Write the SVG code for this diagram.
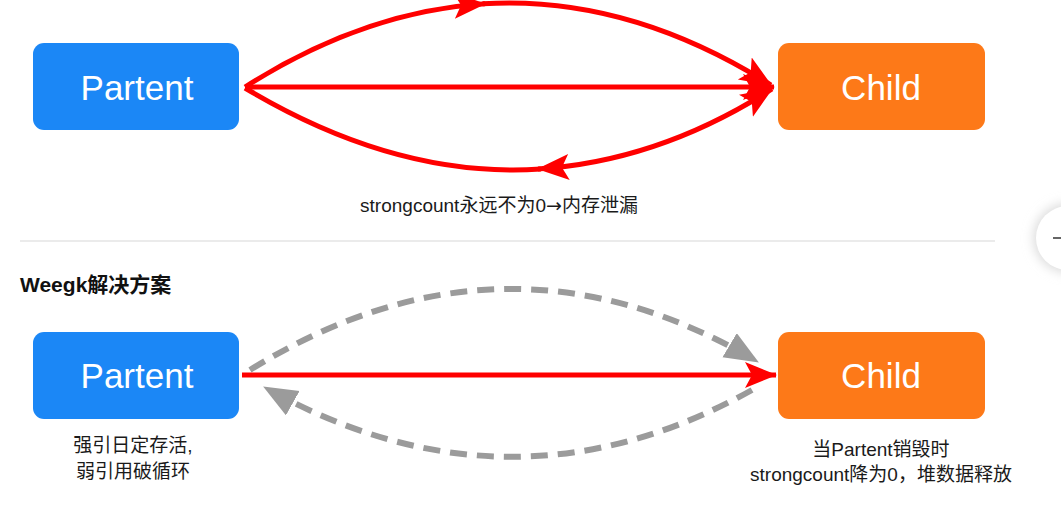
<svg xmlns="http://www.w3.org/2000/svg" width="1061" height="509" viewBox="0 0 1061 509">
  <style>
    .blue { fill: #1b87f6; }
    .orange { fill: #fd7918; }
    .ntext { font-family: "Liberation Sans", "Noto Sans CJK SC", sans-serif; font-size: 35px; fill: #ffffff; text-anchor: middle; }
    .label { font-family: "Liberation Sans", "Noto Sans CJK SC", sans-serif; font-size: 19px; fill: #1a1a1a; text-anchor: middle; }
    .title { font-family: "Liberation Sans", "Noto Sans CJK SC", sans-serif; font-size: 21px; font-weight: bold; fill: #111111; }
    .red { fill: none; stroke: #ff0000; stroke-width: 5; }
    .gray { fill: none; stroke: #9b9b9b; stroke-width: 6; stroke-dasharray: 17 10; }
  </style>
  <defs>
    <marker id="redHead" markerUnits="userSpaceOnUse" markerWidth="36" markerHeight="30" refX="31" refY="13" orient="auto-start-reverse">
      <path d="M0,0 L32,13 L0,26 L7,13 Z" fill="#ff0000"/>
    </marker>
    <marker id="grayHead" markerUnits="userSpaceOnUse" markerWidth="38" markerHeight="30" refX="33" refY="14" orient="auto-start-reverse">
      <path d="M0,0 L34,14 L0,28 Z" fill="#9b9b9b"/>
    </marker>
    <filter id="sh" x="-50%" y="-50%" width="200%" height="200%">
      <feGaussianBlur stdDeviation="6"/>
    </filter>
  </defs>
  <rect width="1061" height="509" fill="#ffffff"/>

  <line x1="20" y1="241" x2="995" y2="241" stroke="#e4e4e4" stroke-width="1.5"/>
  <g id="side-button">
    <circle cx="1068" cy="238" r="34" fill="#d8d8d8" filter="url(#sh)"/>
    <circle cx="1068" cy="238" r="32" fill="#ffffff"/>
    <line x1="1053" y1="238" x2="1061" y2="238" stroke="#333333" stroke-width="1.5"/>
  </g>

  <g id="connectors">
    <path class="red" d="M245,87 Q363.8,11.4 485,3.8" marker-end="url(#redHead)"/>
    <path class="red" d="M482.6,3.8 Q627.8,-5.4 771,85" marker-end="url(#redHead)"/>
    <path class="red" d="M245,87 L774,87" marker-end="url(#redHead)"/>
    <path class="red" d="M772,89 Q659.2,161.4 538,169" marker-start="url(#redHead)" marker-end="url(#redHead)"/>
    <path class="red" d="M540.8,169 Q396.3,178.6 245,88"/>
    <path class="gray" d="M250,370 Q505,212 758,362" marker-end="url(#grayHead)"/>
    <path class="gray" d="M752,390 Q510,525 264,387" marker-end="url(#grayHead)"/>
    <path class="red" d="M242,375 L776,375" stroke-width="5.5" marker-end="url(#redHead)"/>
  </g>

  <g id="parent-top">
    <rect class="blue" x="33" y="43" width="206" height="87" rx="11"/>
    <text class="ntext" x="137" y="100">Partent</text>
  </g>
  <g id="child-top">
    <rect class="orange" x="778" y="43" width="207" height="87" rx="11"/>
    <text class="ntext" x="881" y="100">Child</text>
  </g>
  <text class="label" x="499" y="212">strongcount永远不为0<tspan font-family="'DejaVu Sans', sans-serif">→</tspan>内存泄漏</text>

  <text class="title" x="20" y="292">Weegk解决方案</text>

  <g id="parent-bottom">
    <rect class="blue" x="33" y="332" width="206" height="87" rx="11"/>
    <text class="ntext" x="137" y="388">Partent</text>
  </g>
  <g id="child-bottom">
    <rect class="orange" x="778" y="332" width="207" height="87" rx="11"/>
    <text class="ntext" x="881" y="388">Child</text>
  </g>
  <text class="label" x="133" y="452">强引日定存活,</text>
  <text class="label" x="133" y="478">弱引用破循环</text>
  <text class="label" x="881" y="456">当Partent销毁时</text>
  <text class="label" x="881" y="481">strongcount降为0，堆数据释放</text>
</svg>
